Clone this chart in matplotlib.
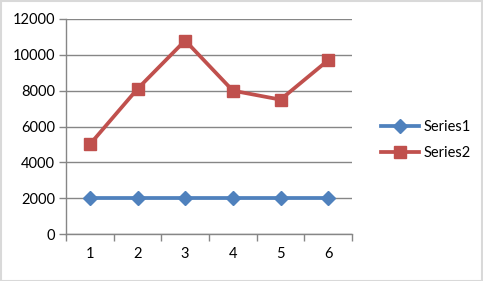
import matplotlib.pyplot as plt
import matplotlib.patches as patches
import numpy as np

categories = [1, 2, 3, 4, 5, 6]
series1 = [2000, 2000, 2000, 2000, 2000, 2000]
series2 = [5000, 8100, 10800, 8000, 7500, 9700]

plt.rcParams['font.family'] = ['Lato', 'DejaVu Sans']

fig = plt.figure(figsize=(4.83, 2.81), dpi=100)
ax = fig.add_axes([66/483, 47/281, 286/483, 215/281])

x = np.arange(1, len(categories) + 1)
ax.plot(x, series1, color='#4F81BD', lw=2.7, marker='D', ms=7.5, label='Series1', zorder=3)
ax.plot(x, series2, color='#C0504D', lw=2.7, marker='s', ms=8.5, label='Series2', zorder=3)

ax.set_xlim(0.5, 6.5)
ax.set_ylim(0, 12000)
ax.set_yticks(range(0, 12001, 2000))
ax.set_xticks(x)
ax.set_xticklabels([str(c) for c in categories])
ax.set_xticks(np.arange(0.5, 7, 1), minor=True)
ax.tick_params(axis='x', which='major', length=0, pad=9, labelsize=10.5)
ax.tick_params(axis='x', which='minor', length=5, color='#868686', width=1)
ax.tick_params(axis='y', length=5, color='#868686', width=1, labelsize=10.5, pad=3)
ax.yaxis.grid(True, color='#868686', lw=1)
ax.set_axisbelow(True)
for s in ['top', 'right']:
    ax.spines[s].set_visible(False)
for s in ['left', 'bottom']:
    ax.spines[s].set_color('#868686')
    ax.spines[s].set_linewidth(1)

fig.legend(loc='center left', bbox_to_anchor=(368/483, 1 - 140/281), frameon=False,
           fontsize=10.5, handlelength=2.6, handletextpad=0.3, labelspacing=0.85)

fig.patches.append(patches.Rectangle((0.5/483, 0.5/281), 1 - 1.5/483, 1 - 1.5/281,
                                     transform=fig.transFigure, fill=False,
                                     edgecolor='#D9D9D9', lw=1.5))

fig.savefig('out.png', dpi=100)
